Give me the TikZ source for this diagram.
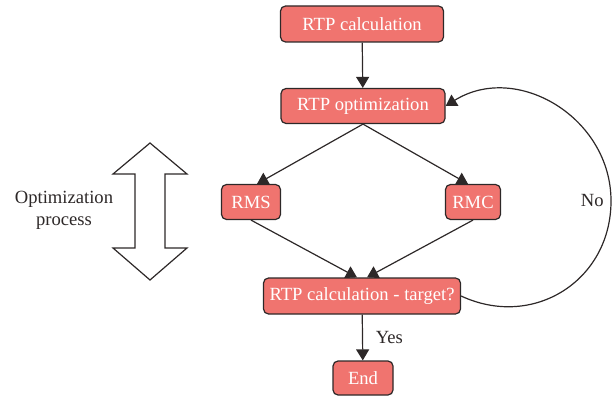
\documentclass[tikz,border=0pt]{standalone}
\usepackage{fontspec}
\setmainfont{Liberation Serif}
\usetikzlibrary{positioning, arrows.meta}
\definecolor{boxfill}{RGB}{240,116,111}
\definecolor{boxline}{RGB}{45,40,40}
\tikzset{
    arrow/.style={draw=boxline,line width=0.6pt,-{Triangle[length=5.5pt,width=6.5pt]}},
    block/.style={shape=rectangle,draw=boxline,line width=0.6pt,fill=boxfill,
        rounded corners=2.5pt,minimum height=17.5pt,inner sep=0pt,text=white}
}

\begin{document}
\begin{tikzpicture}[x=0.5pt,y=0.5pt,font=\fontsize{9.3}{11}\selectfont]
    \useasboundingbox (0,0) rectangle (613,396);

    % boxes
    \node [block, minimum width=81.5pt, minimum height=18pt] at (362,372) (calc)   {RTP calculation};
    \node [block, minimum width=82pt]                        at (363,290) (opt)    {RTP optimization};
    \node [block, minimum width=29.5pt]                      at (251,194) (rms)    {RMS};
    \node [block, minimum width=27.5pt]                      at (473,194) (rmc)    {RMC};
    \node [block, minimum width=98.5pt, minimum height=18pt] at (362,100) (target) {RTP calculation - target?};
    \node [block, minimum width=30pt, minimum height=17pt]   at (363,18)  (end)    {End};

    % point for the loop back
    \coordinate (loop) at (611,195);
    \node [left=3.5pt of loop, inner sep=0pt, text=boxline] (no) {No};

    % left side
    \draw [boxline, line width=0.6pt, line join=miter]
        (150,253) -- (187,222) -- (165,222) -- (165,148) -- (187,148) -- (150,116)
        -- (113,148) -- (135,148) -- (135,222) -- (113,222) -- cycle;
    \node [align=center, text=boxline] at (64,186) (proc) {Optimization\\process};

    % draw arrows
    \begin{scope}[arrow]
        \draw (calc) -- (opt);
        \draw (opt.south) -- ([xshift=3pt]rms.north);
        \draw (opt.south) -- ([xshift=-2.5pt]rmc.north);
        \draw (rms.south) -- ([xshift=-2.5pt]target.north);
        \draw (rmc.south) -- ([xshift=2.5pt]target.north);
        \draw (target) -- node [right=3pt, text=boxline] (yes) {Yes} (end);
        \draw (target.east) to[out=-25, in=-90, looseness=1.15] (loop)
            to[out=90, in=32, looseness=1.12] (opt.east);
    \end{scope}
\end{tikzpicture}
\end{document}
